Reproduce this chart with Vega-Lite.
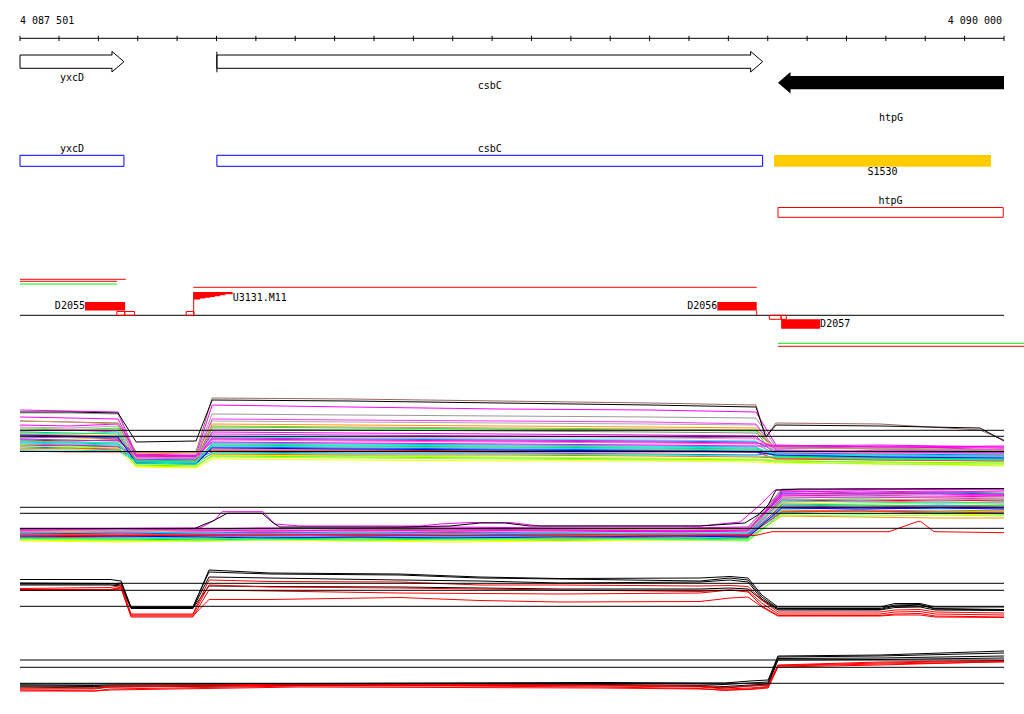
{
"$schema": "https://vega.github.io/schema/vega-lite/v6.json",
"width": 984, "height": 673,
"autosize": {"type": "none"},
"padding": {"left": 20, "top": 41, "right": 20, "bottom": 0},
"background": "white",
"config": {"view": {"stroke": null}, "text": {"font": "DejaVu Sans Mono", "fontSize": 10, "color": "black"}},
"datasets": {
"span": [{"from": 4087501, "to": 4090000}],
"ticks": [{"pos":4087501},{"pos":4087600},{"pos":4087700},{"pos":4087800},{"pos":4087900},{"pos":4088000},{"pos":4088100},{"pos":4088200},{"pos":4088300},{"pos":4088400},{"pos":4088500},{"pos":4088600},{"pos":4088700},{"pos":4088800},{"pos":4088900},{"pos":4089000},{"pos":4089100},{"pos":4089200},{"pos":4089300},{"pos":4089400},{"pos":4089500},{"pos":4089600},{"pos":4089700},{"pos":4089800},{"pos":4089900},{"pos":4090000}],
"axlab": [{"pos": 4087501, "label": "4 087 501", "side": "start"}, {"pos": 4090000, "label": "4 090 000", "side": "end"}],
"genes": [
{"name": "yxcD", "start": 4087501, "end": 4087765, "strand": "+"},
{"name": "csbC", "start": 4088001, "end": 4089387, "strand": "+"},
{"name": "htpG", "start": 4089426, "end": 4090000, "strand": "-"}],
"feat": [
{"name": "yxcD", "start": 4087501, "end": 4087765, "type": "CDS"},
{"name": "csbC", "start": 4088001, "end": 4089387, "type": "CDS"},
{"name": "S1530", "start": 4089416, "end": 4089967, "type": "segment"},
{"name": "htpG", "start": 4089426, "end": 4089998, "type": "operon"}],
"tu": [
{"id": "TU1", "start": 4087501, "end": 4087770},
{"id": "TU2", "start": 4087501, "end": 4087747},
{"id": "U1", "start": 4087501, "end": 4087747},
{"id": "TU3", "start": 4087941, "end": 4089372},
{"id": "U2", "start": 4089426, "end": 4090051},
{"id": "TU4", "start": 4089426, "end": 4090051}],
"dr": [
{"name": "D2055", "start": 4087666, "end": 4087768, "strand": "+"},
{"name": "D2056", "start": 4089272, "end": 4089372, "strand": "+"},
{"name": "D2057", "start": 4089434, "end": 4089533, "strand": "-"}],
"sm": [
{"start": 4087747, "end": 4087767, "strand": "+"},
{"start": 4087767, "end": 4087792, "strand": "+"},
{"start": 4087923, "end": 4087943, "strand": "+"},
{"start": 4089404, "end": 4089434, "strand": "-"},
{"start": 4089434, "end": 4089447, "strand": "-"}],
"u3131": [{"name": "U3131.M11", "pos": 4087942, "end": 4088041}],
"wedge": [
{"pos": 4087942, "v": 299.5}, {"pos": 4087958, "v": 298.5}, {"pos": 4087971, "v": 297.7},
{"pos": 4087984, "v": 297}, {"pos": 4087996, "v": 296.3}, {"pos": 4088009, "v": 295.3},
{"pos": 4088022, "v": 294.3}, {"pos": 4088041, "v": 293}],
"refs": [
{"level": 430.3}, {"level": 436.3}, {"level": 451.5},
{"level": 507.3}, {"level": 513.3}, {"level": 528.3},
{"level": 583.3}, {"level": 590.3}, {"level": 606.3},
{"level": 660}, {"level": 667.3}, {"level": 683.3}],
"brk": [
{"k": "a", "gx": 4087501, "pn": "p1"}, {"k": "b", "gx": 4087628, "pn": "p1"}, {"k": "c", "gx": 4087750, "pn": "p1"},
{"k": "d", "gx": 4087796, "pn": "p1"}, {"k": "e", "gx": 4087948, "pn": "p1"}, {"k": "f", "gx": 4087989, "pn": "p1"},
{"k": "g", "gx": 4088339, "pn": "p1"}, {"k": "h", "gx": 4088720, "pn": "p1"}, {"k": "i", "gx": 4089101, "pn": "p1"},
{"k": "j", "gx": 4089370, "pn": "p1"}, {"k": "j2", "gx": 4089395, "pn": "p1"}, {"k": "k", "gx": 4089421, "pn": "p1"},
{"k": "l", "gx": 4089685, "pn": "p1"}, {"k": "l2", "gx": 4089939, "pn": "p1"}, {"k": "m", "gx": 4090000, "pn": "p1"},
{"k": "n", "gx": 4087501, "pn": "p2"}, {"k": "o", "gx": 4087755, "pn": "p2"}, {"k": "p", "gx": 4087958, "pn": "p2"},
{"k": "q", "gx": 4088111, "pn": "p2"}, {"k": "r", "gx": 4088364, "pn": "p2"}, {"k": "s", "gx": 4088593, "pn": "p2"},
{"k": "t", "gx": 4088872, "pn": "p2"}, {"k": "u", "gx": 4089177, "pn": "p2"}, {"k": "v", "gx": 4089350, "pn": "p2"},
{"k": "w", "gx": 4089436, "pn": "p2"}, {"k": "x", "gx": 4089634, "pn": "p2"}, {"k": "y", "gx": 4089837, "pn": "p2"},
{"k": "z", "gx": 4090000, "pn": "p2"},
{"k": "A", "gx": 4087501, "pn": "p3"}, {"k": "B", "gx": 4087730, "pn": "p3"}, {"k": "C", "gx": 4087758, "pn": "p3"},
{"k": "D", "gx": 4087783, "pn": "p3"}, {"k": "E", "gx": 4087940, "pn": "p3"}, {"k": "F", "gx": 4087981, "pn": "p3"},
{"k": "G", "gx": 4088136, "pn": "p3"}, {"k": "H", "gx": 4088466, "pn": "p3"}, {"k": "I", "gx": 4088669, "pn": "p3"},
{"k": "J", "gx": 4088872, "pn": "p3"}, {"k": "K", "gx": 4089228, "pn": "p3"}, {"k": "L", "gx": 4089304, "pn": "p3"},
{"k": "M", "gx": 4089350, "pn": "p3"}, {"k": "N", "gx": 4089385, "pn": "p3"}, {"k": "O", "gx": 4089426, "pn": "p3"},
{"k": "P", "gx": 4089685, "pn": "p3"}, {"k": "Q", "gx": 4089723, "pn": "p3"}, {"k": "R", "gx": 4089787, "pn": "p3"},
{"k": "S", "gx": 4089825, "pn": "p3"}, {"k": "T", "gx": 4090000, "pn": "p3"},
{"k": "d0", "gx": 4087501, "pn": "p4"}, {"k": "d1", "gx": 4087691, "pn": "p4"}, {"k": "d2", "gx": 4087730, "pn": "p4"},
{"k": "d3", "gx": 4088212, "pn": "p4"}, {"k": "d4", "gx": 4088593, "pn": "p4"}, {"k": "d5", "gx": 4088974, "pn": "p4"},
{"k": "d6", "gx": 4089228, "pn": "p4"}, {"k": "d7", "gx": 4089291, "pn": "p4"}, {"k": "d8", "gx": 4089355, "pn": "p4"},
{"k": "d9", "gx": 4089401, "pn": "p4"}, {"k": "d10", "gx": 4089426, "pn": "p4"}, {"k": "d11", "gx": 4089685, "pn": "p4"},
{"k": "d12", "gx": 4090000, "pn": "p4"}],
"prof": [
{"id":"s01","a":410,"b":411,"c":412,"d":455,"e":455,"f":405,"g":407,"h":409,"i":410,"j":412,"k":445,"l":447,"m":446,"n":529,"o":530,"p":529,"q":528,"r":528,"s":527,"t":528,"u":528,"v":527,"w":490,"x":489,"y":490,"z":489},
{"id":"s02","a":413,"b":413,"c":414,"d":457,"e":456,"f":414,"g":415,"h":416,"i":417,"j":418,"k":447,"l":448,"m":450,"n":530,"o":531,"p":530,"q":529,"r":529,"s":529,"t":528,"u":529,"v":528,"w":489,"x":490,"y":489,"z":490},
{"id":"s03","a":421,"b":422,"c":423,"d":452,"e":452,"f":398,"g":399,"h":401,"i":403,"j":405,"j2":437,"k":423,"l":424,"l2":430,"m":440,"n":531,"o":531,"p":532,"q":531,"r":530,"s":529,"t":530,"u":531,"v":530,"w":491,"x":493,"y":492,"z":493},
{"id":"s04","a":425,"b":426,"c":424,"d":458,"e":459,"f":432,"g":433,"h":434,"i":435,"j":436,"k":455,"l":450,"m":452,"n":532,"o":532,"p":531,"q":530,"r":531,"s":530,"t":530,"u":531,"v":531,"w":492,"x":491,"y":492,"z":491},
{"id":"s05","a":427,"b":428,"c":426,"d":456,"e":455,"f":421,"g":422,"h":423,"i":424,"j":425,"k":453,"l":455,"m":456,"n":533,"o":532,"p":533,"q":533,"r":532,"s":531,"t":532,"u":533,"v":532,"w":494,"x":495,"y":494,"z":496},
{"id":"s06","a":429,"b":430,"c":428,"d":460,"e":461,"f":427,"g":428,"h":429,"i":430,"j":431,"k":458,"l":460,"m":461,"n":534,"o":535,"p":534,"q":533,"r":534,"s":533,"t":534,"u":533,"v":534,"w":497,"x":498,"y":497,"z":498},
{"id":"s07","a":431,"b":430,"c":432,"d":457,"e":458,"f":419,"g":420,"h":421,"i":422,"j":424,"k":450,"l":451,"m":449,"n":533,"o":534,"p":533,"q":532,"r":533,"s":532,"t":531,"u":532,"v":531,"w":495,"x":496,"y":496,"z":495},
{"id":"s08","a":433,"b":434,"c":432,"d":462,"e":460,"f":437,"g":438,"h":439,"i":440,"j":441,"k":456,"l":457,"m":455,"n":535,"o":536,"p":535,"q":534,"r":535,"s":534,"t":535,"u":536,"v":535,"w":499,"x":500,"y":501,"z":500},
{"id":"s09","a":434,"b":435,"c":436,"d":459,"e":461,"f":424,"g":425,"h":426,"i":427,"j":428,"k":454,"l":452,"m":455,"n":536,"o":537,"p":536,"q":535,"r":536,"s":537,"t":536,"u":537,"v":538,"w":516,"x":517,"y":518,"z":518},
{"id":"s10","a":436,"b":437,"c":438,"d":461,"e":463,"f":447,"g":448,"h":449,"i":450,"j":451,"k":451,"l":452,"m":453,"n":534,"o":533,"p":534,"q":535,"r":534,"s":535,"t":534,"u":535,"v":534,"w":493,"x":494,"y":493,"z":494},
{"id":"s11","a":437,"b":438,"c":440,"d":466,"e":467,"f":455,"g":456,"h":457,"i":458,"j":459,"k":460,"l":463,"m":464,"n":540,"o":541,"p":541,"q":540,"r":541,"s":540,"t":541,"u":540,"v":539,"w":503,"x":504,"y":503,"z":504},
{"id":"s12","a":438,"b":437,"c":439,"d":457,"e":459,"f":434,"g":435,"h":436,"i":437,"j":438,"k":449,"l":446,"m":450,"n":532,"o":533,"p":532,"q":533,"r":532,"s":533,"t":532,"u":531,"v":532,"w":498,"x":497,"y":498,"z":499},
{"id":"s13","a":440,"b":441,"c":440,"d":454,"e":456,"f":450,"g":450,"h":451,"i":451,"j":452,"k":452,"l":453,"m":454,"n":533,"o":534,"p":535,"q":534,"r":535,"s":536,"t":535,"u":534,"v":535,"w":500,"x":501,"y":500,"z":501},
{"id":"s14","a":441,"b":442,"c":443,"d":459,"e":460,"f":440,"g":441,"h":442,"i":443,"j":444,"k":455,"l":456,"m":457,"n":535,"o":534,"p":535,"q":536,"r":535,"s":536,"t":537,"u":536,"v":535,"w":502,"x":501,"y":502,"z":503},
{"id":"s15","a":442,"b":443,"c":444,"d":462,"e":463,"f":443,"g":444,"h":445,"i":446,"j":447,"k":457,"l":458,"m":459,"n":536,"o":535,"p":536,"q":537,"r":536,"s":535,"t":536,"u":537,"v":536,"w":505,"x":506,"y":505,"z":506},
{"id":"s16","a":444,"b":445,"c":446,"d":458,"e":457,"f":429,"g":430,"h":431,"i":432,"j":433,"k":447,"l":449,"m":451,"n":537,"o":536,"p":537,"q":536,"r":537,"s":536,"t":537,"u":538,"v":537,"w":507,"x":508,"y":507,"z":508},
{"id":"s17","a":445,"b":446,"c":447,"d":465,"e":466,"f":456,"g":457,"h":458,"i":459,"j":460,"k":461,"l":462,"m":463,"n":539,"o":540,"p":539,"q":538,"r":539,"s":538,"t":539,"u":538,"v":537,"w":510,"x":511,"y":512,"z":511},
{"id":"s18","a":446,"b":445,"c":447,"d":456,"e":457,"f":439,"g":440,"h":441,"i":442,"j":443,"k":446,"l":447,"m":448,"n":531,"o":532,"p":531,"q":532,"r":531,"s":532,"t":531,"u":532,"v":531,"w":496,"x":495,"y":497,"z":496},
{"id":"s19","a":447,"b":448,"c":449,"d":460,"e":459,"f":452,"g":453,"h":453,"i":454,"j":455,"k":453,"l":454,"m":455,"n":538,"o":537,"p":538,"q":537,"r":538,"s":537,"t":538,"u":537,"v":536,"w":512,"x":511,"y":512,"z":513},
{"id":"s20","a":448,"b":449,"c":450,"d":467,"e":468,"f":459,"g":460,"h":461,"i":461,"j":462,"k":463,"l":464,"m":466,"n":541,"o":542,"p":541,"q":540,"r":541,"s":542,"t":541,"u":540,"v":540,"w":514,"x":513,"y":514,"z":515},
{"id":"s21","a":449,"b":448,"c":450,"d":462,"e":461,"f":454,"g":455,"h":455,"i":456,"j":457,"k":458,"l":459,"m":460,"n":537,"o":538,"p":537,"q":538,"r":537,"s":538,"t":539,"u":538,"v":537,"w":511,"x":510,"y":511,"z":510},
{"id":"s22","a":443,"b":444,"c":445,"d":463,"e":462,"f":446,"g":447,"h":448,"i":449,"j":450,"k":454,"l":456,"m":457,"n":536,"o":537,"p":538,"q":537,"r":536,"s":537,"t":536,"u":537,"v":538,"w":509,"x":508,"y":509,"z":508},
{"id":"s23","a":432,"b":433,"c":434,"d":461,"e":460,"f":445,"g":446,"h":447,"i":448,"j":449,"k":456,"l":458,"m":460,"n":538,"o":539,"p":540,"q":539,"r":538,"s":539,"t":540,"u":539,"v":538,"w":504,"x":505,"y":506,"z":505},
{"id":"s24","a":451,"b":452,"c":452,"d":452,"e":452,"f":451,"g":451,"h":452,"i":452,"j":452,"k":459,"l":460,"m":461,"n":534,"o":535,"p":534,"q":535,"r":534,"s":533,"t":534,"u":535,"v":536,"w":512,"x":511,"y":513,"z":512},
{"id":"s25","a":439,"b":440,"c":441,"d":455,"e":456,"f":438,"g":439,"h":440,"i":441,"j":442,"k":451,"l":452,"m":453,"n":535,"o":536,"p":535,"q":534,"r":535,"s":534,"t":533,"u":534,"v":535,"w":506,"x":507,"y":506,"z":507},
{"id":"s26","a":421,"b":422,"c":424,"d":454,"e":453,"f":426,"g":427,"h":428,"i":429,"j":430,"k":448,"l":449,"m":450,"n":530,"o":531,"p":530,"q":531,"r":530,"s":531,"t":530,"u":529,"v":530,"w":500,"x":499,"y":500,"z":499},
{"id":"s27","a":446,"b":447,"c":448,"d":464,"e":465,"f":457,"g":458,"h":459,"i":460,"j":460,"k":462,"l":464,"m":465,"n":539,"o":540,"p":541,"q":540,"r":539,"s":540,"t":539,"u":540,"v":541,"w":515,"x":516,"y":515,"z":516},
{"id":"s28","a":428,"b":429,"c":430,"d":458,"e":458,"f":436,"g":437,"h":438,"i":438,"j":439,"k":452,"l":453,"m":454,"n":532,"o":531,"p":532,"q":531,"r":532,"s":531,"t":532,"u":533,"v":532,"w":497,"x":496,"y":497,"z":498},
{"id":"s29","a":435,"b":436,"c":437,"d":463,"e":464,"f":448,"g":449,"h":450,"i":451,"j":452,"k":455,"l":457,"m":458,"n":537,"o":536,"p":537,"q":538,"r":537,"s":538,"t":537,"u":536,"v":537,"w":508,"x":509,"y":508,"z":509},
{"id":"s30","a":441,"b":442,"c":443,"d":463,"e":464,"f":453,"g":454,"h":454,"i":455,"j":456,"k":457,"l":459,"m":460,"n":538,"o":539,"p":538,"q":539,"r":540,"s":539,"t":538,"u":539,"v":540,"w":513,"x":514,"y":513,"z":514},
{"id":"s31","a":450,"b":450,"c":451,"d":461,"e":462,"f":444,"g":445,"h":446,"i":447,"j":448,"k":454,"l":455,"m":456,"n":533,"o":532,"p":533,"q":534,"r":533,"s":534,"t":533,"u":534,"v":533,"w":501,"x":502,"y":503,"z":502},
{"id":"s32","a":417,"b":418,"c":419,"d":455,"e":456,"f":442,"g":443,"h":444,"i":445,"j":446,"k":446,"l":445,"m":447,"n":530,"o":529,"p":530,"q":531,"r":530,"s":531,"t":530,"u":531,"v":530,"w":494,"x":493,"y":494,"z":495},
{"id":"k1","a":412,"b":412,"c":413,"d":442,"e":441,"f":400,"g":401,"h":403,"i":405,"j":407,"j2":437,"k":425,"l":426,"l2":428,"m":441}],
"sp": [
{"id":"m1","g":4087501,"v":529},{"id":"m1","g":4087958,"v":528},{"id":"m1","g":4087996,"v":520},{"id":"m1","g":4088014,"v":511.7},
{"id":"m1","g":4088118,"v":511.7},{"id":"m1","g":4088149,"v":524},{"id":"m1","g":4088212,"v":526},{"id":"m1","g":4088517,"v":526},
{"id":"m1","g":4088568,"v":524},{"id":"m1","g":4088644,"v":522.5},{"id":"m1","g":4088745,"v":522.5},{"id":"m1","g":4088822,"v":526},
{"id":"m1","g":4089228,"v":526},{"id":"m1","g":4089330,"v":522},{"id":"m1","g":4089380,"v":505},{"id":"m1","g":4089418,"v":490},
{"id":"m1","g":4090000,"v":489},
{"id":"m2","g":4087501,"v":528.5},{"id":"m2","g":4087945,"v":528.5},{"id":"m2","g":4087971,"v":524},{"id":"m2","g":4087991,"v":521},
{"id":"m2","g":4088027,"v":513.3},{"id":"m2","g":4088116,"v":513.3},{"id":"m2","g":4088144,"v":523},{"id":"m2","g":4088161,"v":527},
{"id":"m2","g":4088466,"v":527},{"id":"m2","g":4088593,"v":526},{"id":"m2","g":4088669,"v":523},{"id":"m2","g":4088733,"v":523},
{"id":"m2","g":4088796,"v":526},{"id":"m2","g":4089228,"v":526},{"id":"m2","g":4089342,"v":523},{"id":"m2","g":4089375,"v":515},
{"id":"m2","g":4089401,"v":505},{"id":"m2","g":4089421,"v":490},{"id":"m2","g":4089482,"v":489},{"id":"m2","g":4090000,"v":488.5},
{"id":"m3","g":4087501,"v":536},{"id":"m3","g":4088212,"v":535},{"id":"m3","g":4088974,"v":536},{"id":"m3","g":4089368,"v":535.5},
{"id":"m3","g":4089411,"v":531.7},{"id":"m3","g":4089708,"v":531.7},{"id":"m3","g":4089779,"v":521.7},{"id":"m3","g":4089789,"v":521.7},
{"id":"m3","g":4089822,"v":531.7},{"id":"m3","g":4090000,"v":532.7}],
"prof3": [
{"id":"c1","A":579.5,"B":579.5,"C":581,"D":607.5,"E":607.5,"F":570,"G":573,"H":574,"I":577,"J":578.5,"K":578,"L":576.5,"M":578,"N":595,"O":607,"P":607,"Q":603.5,"R":603.5,"S":607,"T":607,"d0":684,"d1":684,"d2":684,"d3":683.5,"d4":683,"d5":682.5,"d6":683,"d7":683,"d8":681,"d9":680,"d10":656,"d11":655,"d12":651},
{"id":"c2","A":584,"B":584,"C":583,"D":607,"E":607,"F":572,"G":574,"H":575,"I":578,"J":579,"K":581,"L":578,"M":580,"N":597,"O":608.5,"P":608.5,"Q":605,"R":604.5,"S":608.5,"T":609.5,"d0":685,"d1":685.5,"d2":685,"d3":684.5,"d4":684,"d5":683.5,"d6":684,"d7":684.5,"d8":683,"d9":682,"d10":657,"d11":656,"d12":653},
{"id":"c3","A":583,"B":583.5,"C":585,"D":608,"E":608.5,"F":577,"G":578,"H":580,"I":581,"J":583,"K":582,"L":580,"M":582,"N":599,"O":609,"P":609.5,"Q":606,"R":605,"S":609,"T":610,"d0":686,"d1":686.5,"d2":686,"d3":685,"d4":685,"d5":684.5,"d6":685.5,"d7":686.5,"d8":685,"d9":684,"d10":658.5,"d11":658,"d12":656},
{"id":"c4","A":585,"B":585,"C":586,"D":608.5,"E":608.5,"F":586,"G":586.5,"H":587,"I":588,"J":589,"K":589,"L":588,"M":589,"N":600,"O":610,"P":610,"Q":607.5,"R":607,"S":610,"T":610.5,"d0":687,"d1":688,"d2":687,"d3":685.5,"d4":685.5,"d5":685,"d6":686.5,"d7":688,"d8":686,"d9":685,"d10":660,"d11":659.5,"d12":658},
{"id":"c5","A":588.5,"B":587.5,"C":585.5,"D":614,"E":614,"F":580,"G":581.5,"H":582,"I":585,"J":585,"K":586,"L":585.5,"M":586.5,"N":600,"O":612,"P":612,"Q":610,"R":609.5,"S":612,"T":613,"d0":688,"d1":688,"d2":686,"d3":684,"d4":684.5,"d5":685,"d6":686,"d7":687.5,"d8":686,"d9":685,"d10":665,"d11":662,"d12":660.5},
{"id":"c6","A":589.5,"B":589.5,"C":587,"D":615,"E":615,"F":585,"G":587,"H":588,"I":589,"J":590,"K":591.5,"L":590,"M":591,"N":603,"O":614,"P":614,"Q":612,"R":611.5,"S":614,"T":615,"d0":689,"d1":689,"d2":687,"d3":685,"d4":685.5,"d5":686,"d6":687,"d7":689,"d8":688,"d9":686.5,"d10":665.5,"d11":663,"d12":661},
{"id":"c7","A":590,"B":590,"C":588,"D":617,"E":617,"F":590,"G":591,"H":593,"I":593.5,"J":594,"K":593,"L":590,"M":592,"N":606,"O":615.5,"P":615.5,"Q":614,"R":613.5,"S":616,"T":617,"d0":690,"d1":691,"d2":689,"d3":686,"d4":686,"d5":687,"d6":688.5,"d7":690.5,"d8":689,"d9":687,"d10":666,"d11":664,"d12":662},
{"id":"c8","A":590.5,"B":590,"C":589,"D":616,"E":616,"F":599.5,"G":599.5,"H":597.5,"I":600.5,"J":602,"K":601.5,"L":598,"M":597,"N":607,"O":616,"P":616,"Q":615,"R":615,"S":617,"T":617.5,"d0":691,"d1":691,"d2":690,"d3":687,"d4":687.5,"d5":688,"d6":689,"d7":690,"d8":689.5,"d9":688,"d10":667,"d11":665,"d12":661.5}]
},
"layer": [
{"data": {"name": "span"}, "mark": {"type": "rule", "color": "black", "strokeWidth": 1},
 "encoding": {
  "x": {"field": "from", "type": "quantitative", "scale": {"domain": [4087501, 4090000], "nice": false, "zero": false}, "axis": null},
  "x2": {"field": "to"},
  "y": {"datum": 38.3, "type": "quantitative", "scale": {"domain": [41, 714], "reverse": true, "nice": false, "zero": false}, "axis": null}}},
{"data": {"name": "ticks"}, "mark": {"type": "rule", "color": "black", "strokeWidth": 1},
 "encoding": {"x": {"field": "pos", "type": "quantitative", "axis": null}, "y": {"datum": 35.8, "axis": null}, "y2": {"datum": 41}}},
{"data": {"name": "axlab"}, "transform": [{"filter": "datum.side == 'start'"}], "mark": {"type": "text", "align": "left", "baseline": "middle"},
 "encoding": {"x": {"field": "pos", "type": "quantitative", "axis": null}, "y": {"datum": 20.5, "axis": null}, "text": {"field": "label"}}},
{"data": {"name": "axlab"}, "transform": [{"filter": "datum.side == 'end'"}], "mark": {"type": "text", "align": "right", "baseline": "middle", "dx": -2},
 "encoding": {"x": {"field": "pos", "type": "quantitative", "axis": null}, "y": {"datum": 20.5, "axis": null}, "text": {"field": "label"}}},

{"data": {"name": "genes"}, "transform": [{"filter": "datum.strand == '+'"}],
 "mark": {"type": "rect", "fill": "white", "stroke": "black", "strokeWidth": 1},
 "encoding": {"x": {"field": "start", "type": "quantitative", "axis": null}, "x2": {"field": "end"}, "y": {"datum": 55, "axis": null}, "y2": {"datum": 68.3}}},
{"data": {"name": "genes"}, "transform": [{"filter": "datum.strand == '+'"}],
 "mark": {"type": "point", "shape": "M-1.17,-1.1L0.2,-1.1L0.2,1.1L-1.17,1.1Z", "size": 400, "filled": true, "color": "white", "opacity": 1, "strokeWidth": 0},
 "encoding": {"x": {"field": "end", "type": "quantitative", "axis": null}, "y": {"datum": 61.7, "axis": null}}},
{"data": {"name": "genes"}, "transform": [{"filter": "datum.strand == '+'"}],
 "mark": {"type": "point", "shape": "M-1.2,-0.665L-1.2,-1.03L0,0L-1.2,1.03L-1.2,0.665", "size": 400, "filled": false, "color": "black", "opacity": 1, "strokeWidth": 1},
 "encoding": {"x": {"field": "end", "type": "quantitative", "axis": null}, "y": {"datum": 61.7, "axis": null}}},
{"data": {"name": "genes"}, "transform": [{"filter": "datum.name == 'csbC'"}],
 "mark": {"type": "rule", "color": "black", "strokeWidth": 1},
 "encoding": {"x": {"field": "start", "type": "quantitative", "axis": null}, "y": {"datum": 51.7, "axis": null}, "y2": {"datum": 72.3}}},
{"data": {"name": "genes"}, "transform": [{"filter": "datum.strand == '-'"}],
 "mark": {"type": "rect", "fill": "black", "xOffset": 12},
 "encoding": {"x": {"field": "start", "type": "quantitative", "axis": null}, "x2": {"field": "end"}, "y": {"datum": 76, "axis": null}, "y2": {"datum": 89.3}}},
{"data": {"name": "genes"}, "transform": [{"filter": "datum.strand == '-'"}],
 "mark": {"type": "point", "shape": "M0,0L1.25,-1.08L1.25,1.08Z", "size": 400, "filled": true, "color": "black", "opacity": 1, "strokeWidth": 0},
 "encoding": {"x": {"field": "start", "type": "quantitative", "axis": null}, "y": {"datum": 82.8, "axis": null}}},
{"data": {"name": "genes"}, "transform": [{"filter": "datum.name == 'yxcD'"}, {"fold": ["start", "end"]}, {"aggregate": [{"op": "mean", "field": "value", "as": "mid"}], "groupby": ["name"]}],
 "mark": {"type": "text", "align": "center", "baseline": "middle"},
 "encoding": {"x": {"field": "mid", "type": "quantitative", "axis": null}, "y": {"datum": 77.5, "axis": null}, "text": {"field": "name"}}},
{"data": {"name": "genes"}, "transform": [{"filter": "datum.name == 'csbC'"}, {"fold": ["start", "end"]}, {"aggregate": [{"op": "mean", "field": "value", "as": "mid"}], "groupby": ["name"]}],
 "mark": {"type": "text", "align": "center", "baseline": "middle"},
 "encoding": {"x": {"field": "mid", "type": "quantitative", "axis": null}, "y": {"datum": 85.5, "axis": null}, "text": {"field": "name"}}},
{"data": {"name": "genes"}, "transform": [{"filter": "datum.name == 'htpG'"}, {"fold": ["start", "end"]}, {"aggregate": [{"op": "mean", "field": "value", "as": "mid"}], "groupby": ["name"]}],
 "mark": {"type": "text", "align": "center", "baseline": "middle"},
 "encoding": {"x": {"field": "mid", "type": "quantitative", "axis": null}, "y": {"datum": 118, "axis": null}, "text": {"field": "name"}}},

{"data": {"name": "feat"}, "transform": [{"filter": "datum.type == 'CDS'"}],
 "mark": {"type": "rect", "fill": "transparent", "stroke": "#0000ff", "strokeWidth": 1},
 "encoding": {"x": {"field": "start", "type": "quantitative", "axis": null}, "x2": {"field": "end"}, "y": {"datum": 155.3, "axis": null}, "y2": {"datum": 166.3}}},
{"data": {"name": "feat"}, "transform": [{"filter": "datum.type == 'CDS'"}, {"fold": ["start", "end"]}, {"aggregate": [{"op": "mean", "field": "value", "as": "mid"}], "groupby": ["name"]}],
 "mark": {"type": "text", "align": "center", "baseline": "middle"},
 "encoding": {"x": {"field": "mid", "type": "quantitative", "axis": null}, "y": {"datum": 149, "axis": null}, "text": {"field": "name"}}},
{"data": {"name": "feat"}, "transform": [{"filter": "datum.type == 'segment'"}],
 "mark": {"type": "rect", "fill": "#ffcc00"},
 "encoding": {"x": {"field": "start", "type": "quantitative", "axis": null}, "x2": {"field": "end"}, "y": {"datum": 155, "axis": null}, "y2": {"datum": 166.7}}},
{"data": {"name": "feat"}, "transform": [{"filter": "datum.type == 'segment'"}, {"fold": ["start", "end"]}, {"aggregate": [{"op": "mean", "field": "value", "as": "mid"}], "groupby": ["name"]}],
 "mark": {"type": "text", "align": "center", "baseline": "middle"},
 "encoding": {"x": {"field": "mid", "type": "quantitative", "axis": null}, "y": {"datum": 172, "axis": null}, "text": {"field": "name"}}},
{"data": {"name": "feat"}, "transform": [{"filter": "datum.type == 'operon'"}],
 "mark": {"type": "rect", "fill": "transparent", "stroke": "#ff0000", "strokeWidth": 1},
 "encoding": {"x": {"field": "start", "type": "quantitative", "axis": null}, "x2": {"field": "end"}, "y": {"datum": 207.5, "axis": null}, "y2": {"datum": 217.3}}},
{"data": {"name": "feat"}, "transform": [{"filter": "datum.type == 'operon'"}, {"fold": ["start", "end"]}, {"aggregate": [{"op": "mean", "field": "value", "as": "mid"}], "groupby": ["name"]}],
 "mark": {"type": "text", "align": "center", "baseline": "middle"},
 "encoding": {"x": {"field": "mid", "type": "quantitative", "axis": null}, "y": {"datum": 200.5, "axis": null}, "text": {"field": "name"}}},

{"data": {"name": "tu"}, "transform": [{"filter": "datum.id == 'TU1'"}], "mark": {"type": "rule", "color": "#ff0000"},
 "encoding": {"x": {"field": "start", "type": "quantitative", "axis": null}, "x2": {"field": "end"}, "y": {"datum": 279.3, "axis": null}}},
{"data": {"name": "tu"}, "transform": [{"filter": "datum.id == 'TU2'"}], "mark": {"type": "rule", "color": "#ff0000"},
 "encoding": {"x": {"field": "start", "type": "quantitative", "axis": null}, "x2": {"field": "end"}, "y": {"datum": 281.3, "axis": null}}},
{"data": {"name": "tu"}, "transform": [{"filter": "datum.id == 'U1'"}], "mark": {"type": "rule", "color": "#00ee00"},
 "encoding": {"x": {"field": "start", "type": "quantitative", "axis": null}, "x2": {"field": "end"}, "y": {"datum": 284, "axis": null}}},
{"data": {"name": "tu"}, "transform": [{"filter": "datum.id == 'TU3'"}], "mark": {"type": "rule", "color": "#ff0000"},
 "encoding": {"x": {"field": "start", "type": "quantitative", "axis": null}, "x2": {"field": "end"}, "y": {"datum": 287.3, "axis": null}}},
{"data": {"name": "tu"}, "transform": [{"filter": "datum.id == 'U2'"}], "mark": {"type": "rule", "color": "#00ee00"},
 "encoding": {"x": {"field": "start", "type": "quantitative", "axis": null}, "x2": {"field": "end"}, "y": {"datum": 343.3, "axis": null}}},
{"data": {"name": "tu"}, "transform": [{"filter": "datum.id == 'TU4'"}], "mark": {"type": "rule", "color": "#ff0000"},
 "encoding": {"x": {"field": "start", "type": "quantitative", "axis": null}, "x2": {"field": "end"}, "y": {"datum": 346.3, "axis": null}}},

{"data": {"name": "span"}, "mark": {"type": "rule", "color": "black", "strokeWidth": 1},
 "encoding": {"x": {"field": "from", "type": "quantitative", "axis": null}, "x2": {"field": "to"}, "y": {"datum": 315.3, "axis": null}}},

{"data": {"name": "dr"}, "transform": [{"filter": "datum.strand == '+'"}], "mark": {"type": "rect", "fill": "#ff0000"},
 "encoding": {"x": {"field": "start", "type": "quantitative", "axis": null}, "x2": {"field": "end"}, "y": {"datum": 302, "axis": null}, "y2": {"datum": 310.5}}},
{"data": {"name": "dr"}, "transform": [{"filter": "datum.strand == '+'"}], "mark": {"type": "text", "align": "right", "baseline": "middle"},
 "encoding": {"x": {"field": "start", "type": "quantitative", "axis": null}, "y": {"datum": 306.3, "axis": null}, "text": {"field": "name"}}},
{"data": {"name": "dr"}, "transform": [{"filter": "datum.strand == '-'"}], "mark": {"type": "rect", "fill": "#ff0000"},
 "encoding": {"x": {"field": "start", "type": "quantitative", "axis": null}, "x2": {"field": "end"}, "y": {"datum": 319.3, "axis": null}, "y2": {"datum": 328.7}}},
{"data": {"name": "dr"}, "transform": [{"filter": "datum.strand == '-'"}], "mark": {"type": "text", "align": "left", "baseline": "middle"},
 "encoding": {"x": {"field": "end", "type": "quantitative", "axis": null}, "y": {"datum": 324, "axis": null}, "text": {"field": "name"}}},
{"data": {"name": "dr"}, "transform": [{"filter": "datum.name == 'D2056'"}], "mark": {"type": "rule", "color": "#ff0000"},
 "encoding": {"x": {"field": "end", "type": "quantitative", "axis": null}, "y": {"datum": 310.3, "axis": null}, "y2": {"datum": 315.3}}},

{"data": {"name": "sm"}, "transform": [{"filter": "datum.strand == '+'"}], "mark": {"type": "rect", "fill": "transparent", "stroke": "#ff0000", "strokeWidth": 1},
 "encoding": {"x": {"field": "start", "type": "quantitative", "axis": null}, "x2": {"field": "end"}, "y": {"datum": 311.5, "axis": null}, "y2": {"datum": 315.3}}},
{"data": {"name": "sm"}, "transform": [{"filter": "datum.strand == '-'"}], "mark": {"type": "rect", "fill": "transparent", "stroke": "#ff0000", "strokeWidth": 1},
 "encoding": {"x": {"field": "start", "type": "quantitative", "axis": null}, "x2": {"field": "end"}, "y": {"datum": 315.3, "axis": null}, "y2": {"datum": 319.3}}},

{"data": {"name": "u3131"}, "mark": {"type": "rule", "color": "#ff0000"},
 "encoding": {"x": {"field": "pos", "type": "quantitative", "axis": null}, "y": {"datum": 292, "axis": null}, "y2": {"datum": 315.3}}},
{"data": {"name": "wedge"}, "mark": {"type": "area", "color": "#ff0000", "interpolate": "step-after", "opacity": 1},
 "encoding": {"x": {"field": "pos", "type": "quantitative", "axis": null}, "y": {"field": "v", "type": "quantitative", "axis": null}, "y2": {"datum": 292}}},
{"data": {"name": "u3131"}, "mark": {"type": "text", "align": "left", "baseline": "middle"},
 "encoding": {"x": {"field": "end", "type": "quantitative", "axis": null}, "y": {"datum": 297.5, "axis": null}, "text": {"field": "name"}}},

{"data": {"name": "prof"},
 "transform": [{"fold": ["a","b","c","d","e","f","g","h","i","j","j2","k","l","l2","m","n","o","p","q","r","s","t","u","v","w","x","y","z"]},
  {"filter": "isValid(datum.value)"},
  {"lookup": "key", "from": {"data": {"name": "brk"}, "key": "k", "fields": ["gx", "pn"]}}],
 "mark": {"type": "line", "strokeWidth": 1, "interpolate": "linear"},
 "encoding": {
  "x": {"field": "gx", "type": "quantitative", "axis": null},
  "y": {"field": "value", "type": "quantitative", "axis": null},
  "detail": {"field": "pn"},
  "color": {"field": "id", "type": "nominal", "legend": null,
   "scale": {"domain": ["s01","s02","s03","s04","s05","s06","s07","s08","s09","s10","s11","s12","s13","s14","s15","s16","s17","s18","s19","s20","s21","s22","s23","s24","s25","s26","s27","s28","s29","s30","s31","s32","k1","m1","m2","m3","c1","c2","c3","c4","c5","c6","c7","c8"],
    "range": ["#ff00ff","#999999","#996666","#ff00ff","#aaaaaa","#00ff00","#ff33ff","#00ffff","#ff9900","#0066ff","#ccff00","#cc33ff","#ff0000","#ff66cc","#00cccc","#888888","#66ff00","#ff00cc","#3366ff","#ffff00","#ff6600","#33ccff","#33cc33","#ff3333","#9933ff","#cc9966","#99ff33","#ff99cc","#0000ff","#00ff99","#00e5e5","#ff00ff","#000000","#ff00ff","#000000","#ff0000","#000000","#000000","#000000","#000000","#ff0000","#ff0000","#ff0000","#ff0000"]}}}},
{"data": {"name": "sp"}, "mark": {"type": "line", "strokeWidth": 1},
 "encoding": {"x": {"field": "g", "type": "quantitative", "axis": null}, "y": {"field": "v", "type": "quantitative", "axis": null},
  "color": {"field": "id", "type": "nominal", "legend": null}}},
{"data": {"name": "prof3"},
 "transform": [{"fold": ["A","B","C","D","E","F","G","H","I","J","K","L","M","N","O","P","Q","R","S","T","d0","d1","d2","d3","d4","d5","d6","d7","d8","d9","d10","d11","d12"]},
  {"filter": "isValid(datum.value)"},
  {"lookup": "key", "from": {"data": {"name": "brk"}, "key": "k", "fields": ["gx", "pn"]}}],
 "mark": {"type": "line", "strokeWidth": 1},
 "encoding": {"x": {"field": "gx", "type": "quantitative", "axis": null}, "y": {"field": "value", "type": "quantitative", "axis": null},
  "detail": {"field": "pn"}, "color": {"field": "id", "type": "nominal", "legend": null}}},
{"data": {"name": "refs"}, "mark": {"type": "rule", "color": "black", "strokeWidth": 1},
 "encoding": {"x": {"datum": 4087501, "type": "quantitative", "axis": null}, "x2": {"datum": 4090000}, "y": {"field": "level", "type": "quantitative", "axis": null}}}
]
}
